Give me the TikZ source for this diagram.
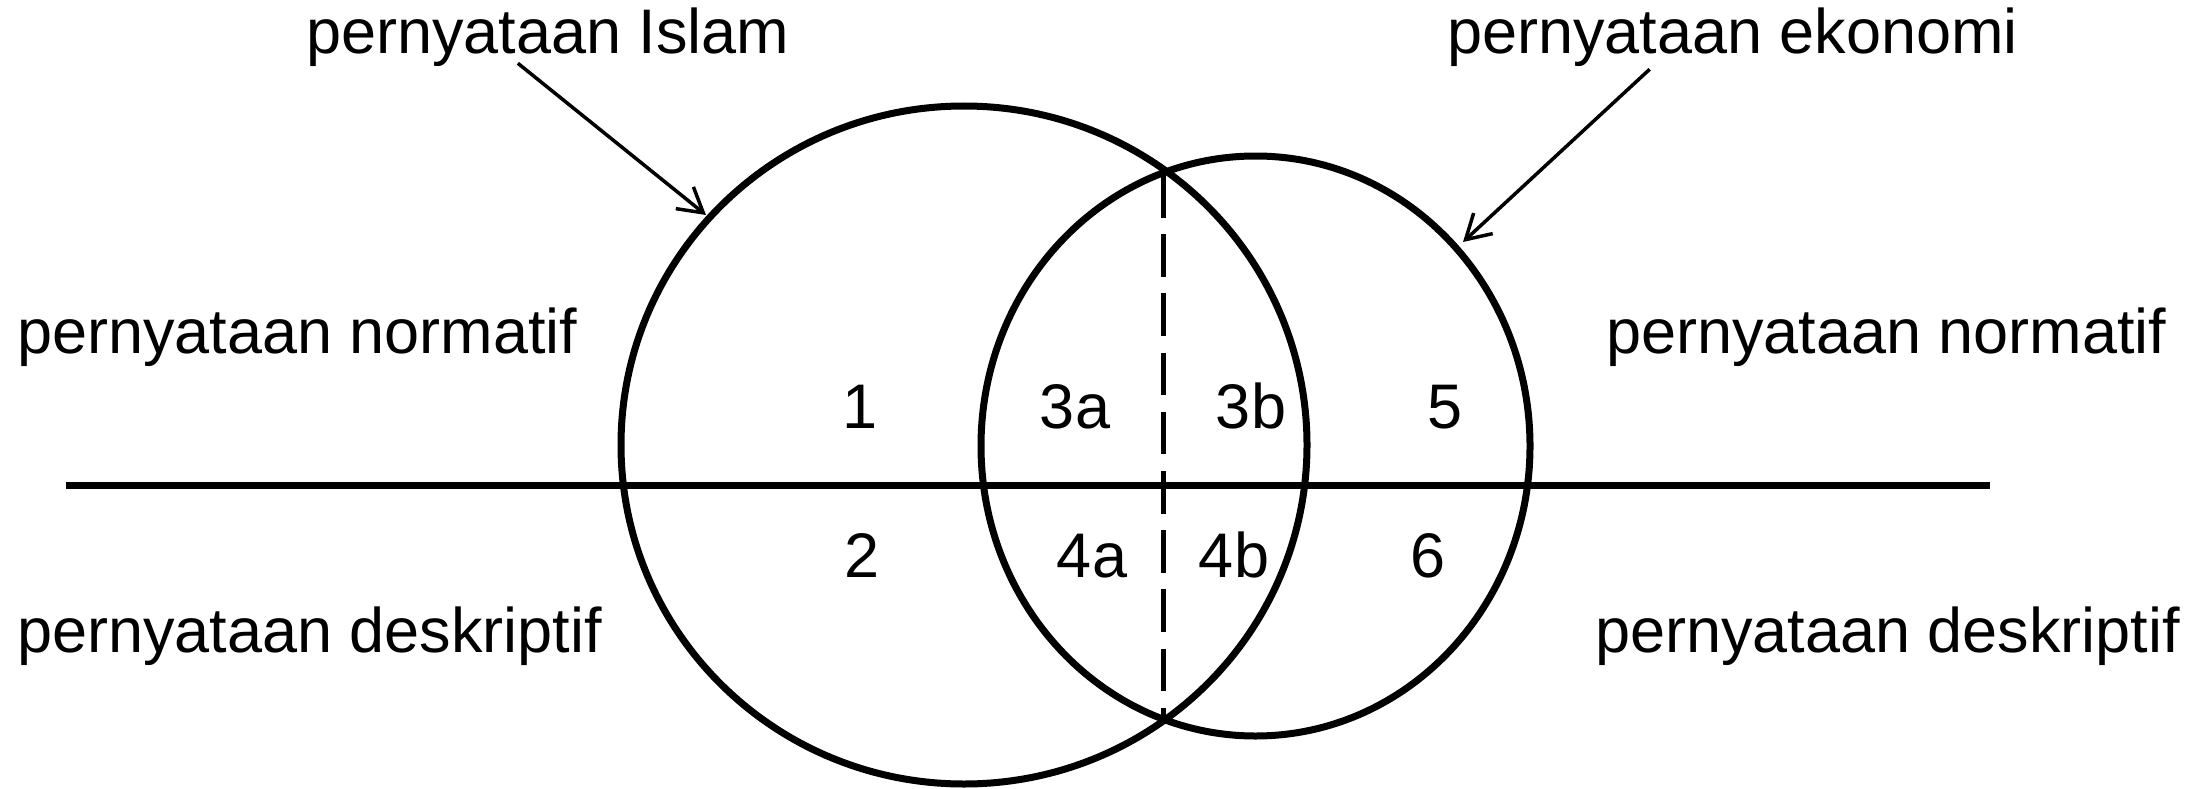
\documentclass[tikz,border=0pt]{standalone}
\usepackage{fontspec}
\setmainfont{Liberation Sans}
\usetikzlibrary{arrows.meta}

\begin{document}
\begin{tikzpicture}[
  x=1pt, y=-1pt,
  font=\fontsize{63pt}{75pt}\selectfont,
  label/.style={inner sep=0pt, anchor=base west},
  region/.style={inner sep=0pt, anchor=base},
  ring/.style={line width=7pt},
  axis/.style={line width=7pt},
  split/.style={line width=5pt, dash pattern=on 42.5pt off 16.7pt},
  pointer/.style={-{Straight Barb[length=24pt, width=28pt]}, line width=3.5pt}
]
\useasboundingbox (0,0) rectangle (2210,789);

% --- Lingkaran ---
\draw[ring] (964,445) ellipse [x radius=343pt, y radius=339pt];
\draw[ring] (1255.5,446) ellipse [x radius=274.5pt, y radius=290pt];

% --- Garis normatif / deskriptif ---
\coordinate (axL) at (66,485);
\coordinate (axR) at (1990,485);
\draw[axis] (axL) -- (axR);

% --- Garis putus-putus ---
\coordinate (cutT) at (1163,175);
\coordinate (cutB) at (1163,720);
\draw[split] (cutT) -- (cutB);

% --- Judul lingkaran ---
\node[label] (islam) at (306,54) {pernyataan Islam};
\node[label] (ekon) at (1447,54) {pernyataan ekonomi};
\coordinate (islamTip) at (706,215);
\coordinate (ekonTip) at (1463,242);
\draw[pointer] ([xshift=-30pt,yshift=4pt]islam.south) -- (islamTip);
\draw[pointer] ([xshift=-83pt,yshift=-2pt]ekon.south) -- (ekonTip);

% --- Keterangan kiri dan kanan ---
\node[label] (normL) at (17,353) {pernyataan normatif};
\node[label] (deskL) at (17,652) {pernyataan deskriptif};
\node[label] (normR) at (1606,353) {pernyataan normatif};
\node[label] (deskR) at (1595,652) {pernyataan deskriptif};

% --- Nomor daerah ---
\node[region] (r1) at (860,428) {1};
\node[region] (r3a) at (1075,428) {3a};
\node[region] (r3b) at (1251,428) {3b};
\node[region] (r5) at (1445,428) {5};
\node[region] (r2) at (862,577) {2};
\node[region] (r4a) at (1092,577) {4a};
\node[region] (r4b) at (1234,577) {4b};
\node[region] (r6) at (1428,577) {6};

\end{tikzpicture}
\end{document}
